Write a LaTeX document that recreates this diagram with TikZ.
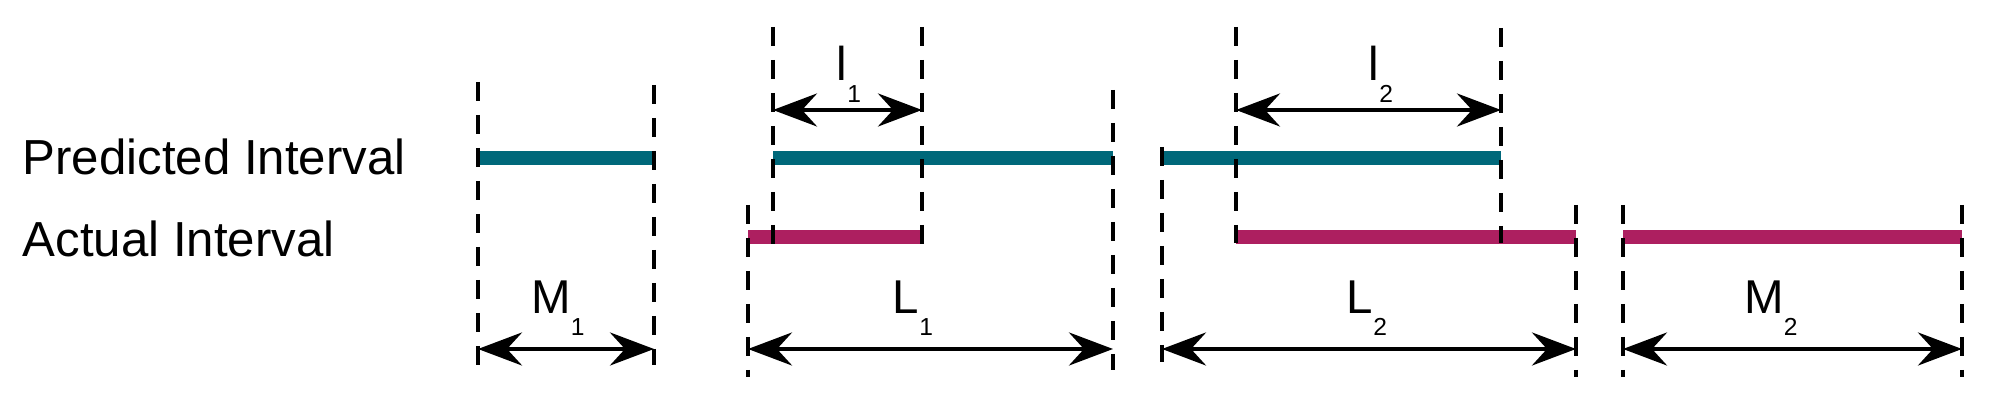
\documentclass[tikz,border=0pt]{standalone}
\usepackage{fontspec}
\setmainfont{Liberation Sans}
\usepackage{tikz}
\usetikzlibrary{arrows.meta}
\usepackage{xcolor}
\definecolor{predcol}{RGB}{0,104,122}
\definecolor{actcol}{RGB}{173,31,96}
\newcommand{\sublab}[2]{#1\raisebox{-6pt}{\fontsize{7}{8}\selectfont #2}}

\begin{document}
\begin{tikzpicture}[
    rowlab/.style={font=\fontsize{14}{16}\selectfont, anchor=base west, inner sep=0pt},
    lab/.style={font=\fontsize{13.5}{16}\selectfont, anchor=base, inner sep=0pt},
    guide/.style={line width=1.3pt, dash pattern=on 0.19cm off 0.14cm},
    predbar/.style={line width=3.8pt, predcol},
    actbar/.style={line width=3.8pt, actcol},
    dim/.style={{Stealth[length=4.4mm, width=3.3mm, inset=1.5mm]}-{Stealth[length=4.4mm, width=3.3mm, inset=1.5mm]}, line width=1.2pt},
]
\useasboundingbox (0,0) rectangle (19.99,-4.02);

% Rows
\coordinate (pred) at (0,-1.58);
\coordinate (act) at (0,-2.37);
\coordinate (up) at (0,-1.10);
\coordinate (low) at (0,-3.49);

% Guide lines: top (g) and bottom (h)
\foreach \n/\x/\t/\b in {1/4.78/-0.82/-3.65, 2/6.54/-0.85/-3.65, 3/7.48/-2.05/-3.77,
    4/7.73/-0.27/-2.45, 5/9.22/-0.27/-2.45, 6/11.13/-0.90/-3.70,
    7/11.62/-1.47/-3.62, 8/12.36/-0.27/-2.43, 9/15.01/-0.28/-2.43,
    10/15.76/-2.05/-3.77, 11/16.23/-2.05/-3.77, 12/19.62/-2.05/-3.77}
  {\coordinate (g\n) at (\x,\t); \coordinate (h\n) at (\x,\b);}

% Row labels
\node[rowlab] (predlab) at (0.22,-1.75) {Predicted Interval};
\node[rowlab] (actlab) at (0.22,-2.57) {Actual Interval};

% Intervals
\draw[predbar] (g1 |- pred) -- (g2 |- pred);
\draw[predbar] (g4 |- pred) -- (g6 |- pred);
\draw[predbar] (g7 |- pred) -- (g9 |- pred);
\draw[actbar] (g3 |- act) -- (g5 |- act);
\draw[actbar] (g8 |- act) -- (g10 |- act);
\draw[actbar] (g11 |- act) -- (g12 |- act);

% Dashed guides
\foreach \n in {1,...,12}
  \draw[guide] (g\n) -- (h\n);

% Dimensions
\draw[dim] (g4 |- up) -- (g5 |- up);
\draw[dim] (g8 |- up) -- (g9 |- up);
\draw[dim] (g1 |- low) -- (g2 |- low);
\draw[dim] (g3 |- low) -- (g6 |- low);
\draw[dim] (g7 |- low) -- (g10 |- low);
\draw[dim] (g11 |- low) -- (g12 |- low);

\node[lab] (l1) at (8.49,-0.81) {\sublab{l}{1}};
\node[lab] (l2) at (13.81,-0.81) {\sublab{l}{2}};
\node[lab] (m1) at (5.58,-3.14) {\sublab{M}{1}};
\node[lab] (L1) at (9.13,-3.14) {\sublab{L}{1}};
\node[lab] (L2) at (13.67,-3.14) {\sublab{L}{2}};
\node[lab] (m2) at (17.71,-3.14) {\sublab{M}{2}};

\end{tikzpicture}
\end{document}
